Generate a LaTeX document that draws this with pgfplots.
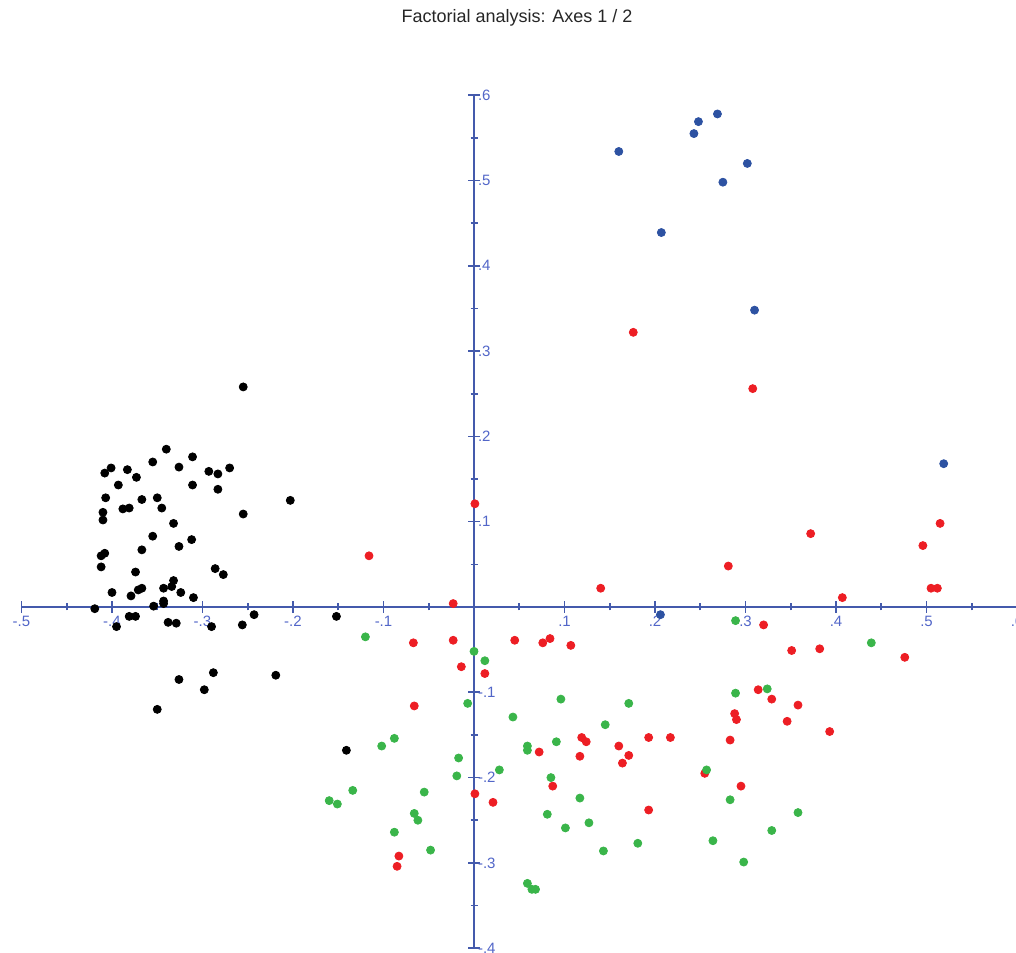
\documentclass[border=0pt]{standalone}
\usepackage{fontspec}
\setmainfont{Liberation Sans}
\usepackage{pgfplots}
\pgfplotsset{compat=1.18}
\definecolor{axblue}{RGB}{68,90,172}
\definecolor{lblblue}{RGB}{82,102,200}
\definecolor{pred}{RGB}{237,30,36}
\definecolor{pgreen}{RGB}{58,181,74}
\definecolor{pblue}{RGB}{45,82,162}
\begin{document}
\begin{tikzpicture}
\begin{axis}[
  at={(10.75pt,1.9pt)}, anchor=south west,
  x=452.5pt, y=426.5pt,
  xmin=-0.5, xmax=0.6, ymin=-0.4, ymax=0.6,
  axis lines=middle,
  axis line style={-, draw=axblue, line width=0.9pt},
  every inner x axis line/.append style={-},
  every inner y axis line/.append style={-},
  enlargelimits=false, clip=false,
  xtick={-0.5,-0.4,-0.3,-0.2,-0.1,0.1,0.2,0.3,0.4,0.5,0.6},
  xticklabels={-.5,-.4,-.3,-.2,-.1,.1,.2,.3,.4,.5,.6},
  ytick={-0.4,-0.3,-0.2,-0.1,0.1,0.2,0.3,0.4,0.5,0.6},
  yticklabels={-.4,-.3,-.2,-.1,.1,.2,.3,.4,.5,.6},
  minor xtick={-0.45,-0.35,-0.25,-0.15,-0.05,0.05,0.15,0.25,0.35,0.45,0.55},
  minor ytick={-0.35,-0.25,-0.15,-0.05,0.05,0.15,0.25,0.35,0.45,0.55},
  tick align=center,
  major tick length=6pt, minor tick length=3.5pt,
  tick style={draw=axblue, line width=0.8pt},
  xticklabel style={font=\fontsize{7.5}{8}\selectfont, text=lblblue, anchor=north, yshift=2pt},
  yticklabel style={font=\fontsize{7.5}{8}\selectfont, text=lblblue, anchor=west, xshift=1.5pt},
]
\addplot[only marks, mark=*, mark size=2pt, draw=black, fill=black] coordinates {
(-0.255,0.258) (-0.340,0.185) (-0.311,0.176) (-0.355,0.170) (-0.326,0.164)
(-0.270,0.163) (-0.401,0.163) (-0.408,0.157) (-0.383,0.161) (-0.293,0.159)
(-0.283,0.156) (-0.373,0.152) (-0.393,0.143) (-0.311,0.143) (-0.283,0.138)
(-0.203,0.125) (-0.407,0.128) (-0.367,0.126) (-0.350,0.128) (-0.345,0.116)
(-0.388,0.115) (-0.381,0.116) (-0.410,0.111) (-0.410,0.102) (-0.255,0.109)
(-0.332,0.098) (-0.355,0.083) (-0.312,0.079) (-0.326,0.071) (-0.367,0.067)
(-0.408,0.063) (-0.412,0.060) (-0.412,0.047) (-0.286,0.045) (-0.277,0.038)
(-0.374,0.041) (-0.332,0.031) (-0.334,0.024) (-0.343,0.022) (-0.367,0.022)
(-0.371,0.020) (-0.400,0.017) (-0.324,0.017) (-0.379,0.013) (-0.310,0.011)
(-0.343,0.007) (-0.343,0.004) (-0.354,0.001) (-0.419,-0.002) (-0.381,-0.011)
(-0.374,-0.011) (-0.395,-0.023) (-0.338,-0.018) (-0.329,-0.019) (-0.290,-0.023)
(-0.256,-0.021) (-0.243,-0.009) (-0.152,-0.011) (-0.288,-0.077) (-0.326,-0.085)
(-0.219,-0.080) (-0.298,-0.097) (-0.350,-0.120) (-0.141,-0.168)
};
\addplot[only marks, mark=*, mark size=2pt, draw=pred, fill=pred] coordinates {
(-0.023,0.004) (-0.067,-0.042) (-0.023,-0.039) (0.045,-0.039) (0.076,-0.042)
(0.084,-0.037) (0.107,-0.045) (-0.014,-0.070) (0.012,-0.078) (-0.066,-0.116)
(0.119,-0.153) (0.124,-0.158) (0.072,-0.170) (0.117,-0.175) (0.160,-0.163)
(0.171,-0.174) (0.164,-0.183) (0.193,-0.153) (0.193,-0.238) (0.087,-0.210)
(0.001,-0.219) (0.021,-0.229) (-0.083,-0.292) (-0.085,-0.304) (0.320,-0.021)
(0.351,-0.051) (0.382,-0.049) (0.476,-0.059) (0.314,-0.097) (0.329,-0.108)
(0.358,-0.115) (0.288,-0.125) (0.290,-0.132) (0.346,-0.134) (0.393,-0.146)
(0.217,-0.153) (0.283,-0.156) (0.255,-0.195) (0.295,-0.210) (0.176,0.322)
(0.308,0.256) (0.372,0.086) (0.281,0.048) (0.140,0.022) (0.407,0.011)
(0.496,0.072) (0.515,0.098) (0.505,0.022) (0.512,0.022) (0.001,0.121)
(-0.116,0.060)
};
\addplot[only marks, mark=*, mark size=2pt, draw=pgreen, fill=pgreen] coordinates {
(-0.120,-0.035) (0.000,-0.052) (0.012,-0.063) (-0.007,-0.113) (0.096,-0.108)
(0.171,-0.113) (0.043,-0.129) (0.145,-0.138) (-0.088,-0.154) (-0.102,-0.163)
(0.091,-0.158) (0.059,-0.163) (0.059,-0.168) (-0.017,-0.177) (-0.019,-0.198)
(0.028,-0.191) (0.085,-0.200) (-0.134,-0.215) (-0.160,-0.227) (-0.151,-0.231)
(-0.055,-0.217) (0.117,-0.224) (-0.066,-0.242) (-0.062,-0.250) (0.081,-0.243)
(0.127,-0.253) (0.101,-0.259) (-0.088,-0.264) (-0.048,-0.285) (0.181,-0.277)
(0.143,-0.286) (0.059,-0.324) (0.064,-0.331) (0.068,-0.331) (0.289,-0.016)
(0.439,-0.042) (0.324,-0.096) (0.289,-0.101) (0.257,-0.191) (0.283,-0.226)
(0.358,-0.241) (0.329,-0.262) (0.264,-0.274) (0.298,-0.299)
};
\addplot[only marks, mark=*, mark size=2pt, draw=pblue, fill=pblue] coordinates {
(0.160,0.534) (0.243,0.555) (0.248,0.569) (0.269,0.578) (0.302,0.520)
(0.275,0.498) (0.207,0.439) (0.310,0.348) (0.519,0.168) (0.206,-0.009)
};
\end{axis}
\node[anchor=base, font=\fontsize{9}{10}\selectfont, text=black!85] at (258.5pt,464.5pt) {Factorial analysis: Axes 1 / 2};
\pgfresetboundingbox
\path[use as bounding box] (0,0) rectangle (508pt,476pt);
\end{tikzpicture}
\end{document}
